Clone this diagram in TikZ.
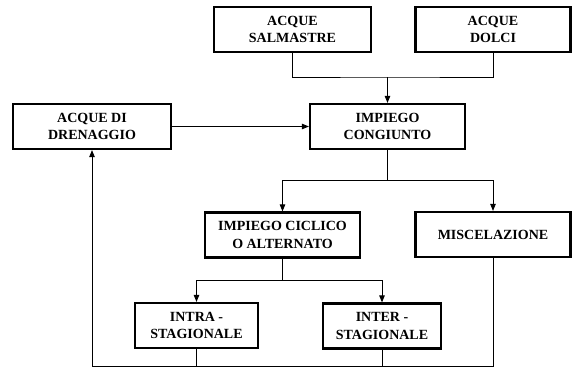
\documentclass[tikz,border=0pt]{standalone}
\usepackage{fontspec}
\setmainfont{Liberation Serif}
\usetikzlibrary{arrows.meta}
\tikzset{
  box/.style={draw, line width=2.2pt, align=center, inner sep=0pt,
    minimum height=45pt, font=\bfseries\fontsize{14}{17.5}\selectfont},
  link/.style={line width=0.9pt},
  arr/.style={link, -{Triangle[length=7pt,width=5.5pt]}}
}
\begin{document}
\begin{tikzpicture}[x=1pt,y=-1pt]
  \useasboundingbox (0,0) rectangle (572,369);

  % Boxes of the first row
  \node [box, minimum width=157pt] (salm) at (292.5,29.5) {ACQUE\\SALMASTRE};
  \node [box, minimum width=155pt] (dolci) at (493,29.5) {ACQUE\\DOLCI};

  % Boxes of the second row
  \node [box, minimum width=158pt] (dren) at (92,126.5) {ACQUE DI\\DRENAGGIO};
  \node [box, minimum width=155pt] (cong) at (387.5,126.5) {IMPIEGO\\CONGIUNTO};

  % Boxes of the third row
  \node [box, minimum width=155pt] (cicl) at (282.5,235) {IMPIEGO CICLICO\\O ALTERNATO};
  \node [box, minimum width=155pt] (misc) at (493,234.5) {MISCELAZIONE};

  % Boxes of the fourth row
  \node [box, minimum width=123pt] (intra) at (196.5,325.5) {INTRA -\\STAGIONALE};
  \node [box, minimum width=118pt] (inter) at (382,326) {INTER -\\STAGIONALE};

  % Junction points
  \coordinate (j1) at (387.5,77);
  \coordinate (j2) at (387.5,180);
  \coordinate (j3) at (282.5,280);
  \coordinate (j4) at (92,366);

  % Joining the two sources
  \draw [link] (salm.south) |- (j1) -| (dolci.south);
  \draw [arr] (j1) -- (cong.north);

  % Drainage into joint use
  \draw [arr] (dren.east) -- (cong.west);

  % Splitting joint use
  \draw [link] (cong.south) -- (j2);
  \draw [arr] (j2) -| (cicl.north);
  \draw [arr] (j2) -| (misc.north);

  % Splitting cyclic use
  \draw [link] (cicl.south) -- (j3);
  \draw [arr] (j3) -| (intra.north);
  \draw [arr] (j3) -| (inter.north);

  % Return line to drainage
  \draw [arr] (misc.south) |- (j4) -- (dren.south);
  \draw [link] (intra.south) -- (intra.south |- j4);
  \draw [link] (inter.south) -- (inter.south |- j4);
\end{tikzpicture}
\end{document}
